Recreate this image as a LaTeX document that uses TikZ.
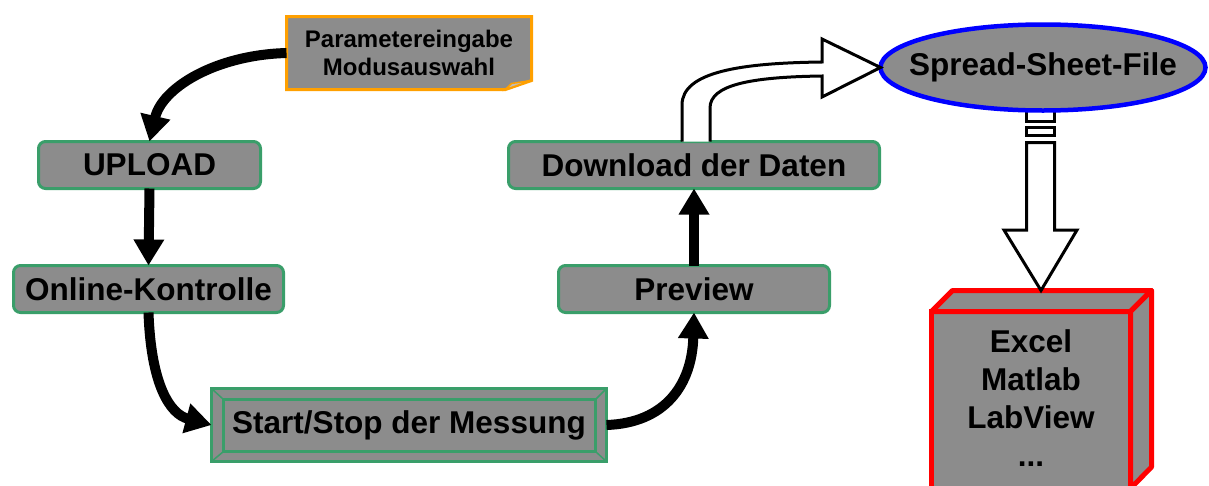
\documentclass[tikz,border=0pt]{standalone}
\usepackage{fontspec}
\setmainfont{Liberation Sans}
\usetikzlibrary{arrows.meta,calc,shapes.geometric,backgrounds}
\definecolor{boxgreen}{RGB}{58,158,106}
\definecolor{noteorange}{RGB}{255,160,0}
\definecolor{dither}{RGB}{140,140,140}
\definecolor{foldgray}{RGB}{190,190,190}
\begin{document}
\begin{tikzpicture}[x=1pt,y=-1pt,
  bigfont/.style={font=\fontsize{31.5}{38}\selectfont\bfseries},
  stepbox/.style={draw=boxgreen, line width=3pt, fill=dither, rounded corners=7pt,
    inner sep=0pt, outer sep=0pt, bigfont, minimum height=47pt},
  flow/.style={line width=10pt, -{Triangle[width=29pt,length=26pt]}},
  hollow/.style={draw=black, fill=white, line width=3pt, line join=miter},
  notebox/.style={draw=noteorange, line width=3pt, fill=dither, line join=miter},
  cube/.style={draw=red, line width=5pt, fill=dither, line join=round}]
\useasboundingbox (0,0) rectangle (1209,485);

% --- process steps ---
\node[font=\fontsize{24}{28}\selectfont\bfseries, align=center, inner sep=0pt, outer sep=0pt,
      minimum width=245pt, minimum height=73pt] (param) at (409,53) {Parametereingabe\\Modusauswahl};
\begin{scope}[on background layer]
  \draw[notebox] (param.north west) -- (param.north east) -- ($(param.south east)+(0,9pt)$)
     -- ($(param.south east)+(-26pt,0)$) -- (param.south west) -- cycle;
  \draw[noteorange, line width=1.5pt, fill=foldgray] ($(param.south east)+(-26pt,0)$)
     -- ($(param.south east)+(-20pt,6pt)$) -- ($(param.south east)+(0,9pt)$) -- cycle;
\end{scope}

\node[stepbox, minimum width=222pt] (upload) at (149.5,165) {UPLOAD};
\node[stepbox, minimum width=270pt] (online) at (148.5,289) {Online-Kontrolle};
\node[stepbox, minimum width=271pt] (preview) at (694,289) {Preview};
\node[stepbox, minimum width=371pt] (download) at (694,165) {Download der Daten};

% measurement box with a bevelled double frame
\node[stepbox, rounded corners=0pt, minimum width=395pt, minimum height=73pt] (meas) at (409,425) {Start/Stop der Messung};
\draw[boxgreen, line width=3pt]
  ($(meas.north west)+(12pt,-11pt)$) rectangle ($(meas.south east)+(-11pt,10pt)$);
\draw[boxgreen, line width=1.5pt]
  (meas.north west) -- ($(meas.north west)+(12pt,-11pt)$)
  (meas.north east) -- ($(meas.north east)+(-11pt,-11pt)$)
  (meas.south west) -- ($(meas.south west)+(12pt,10pt)$)
  (meas.south east) -- ($(meas.south east)+(-11pt,10pt)$);

% --- output side ---
% striped hollow arrow below the file node
\draw[hollow] (1026.5,104) rectangle (1054.5,121.5);
\draw[hollow] (1026.5,127.5) rectangle (1054.5,135.5);

\node[ellipse, draw=blue, line width=4.5pt, fill=dither, inner sep=0pt, outer sep=0pt,
      minimum width=325pt, minimum height=86pt,
      label={[bigfont]center:Spread-Sheet-File}] (spread) at (1043,67.5) {};

\node[cube, line join=miter, inner sep=0pt, outer sep=0pt, minimum width=199pt, minimum height=194pt,
      label={[bigfont, align=center, yshift=10pt]center:Excel\\Matlab\\LabView\\...}]
      (tools) at (1031,408.5) {};
\draw[cube] (tools.north west) -- ++(21pt,21pt) -- ($(tools.north east)+(21pt,21pt)$)
  -- (tools.north east) -- cycle;
\draw[cube] (tools.north east) -- ++(21pt,21pt) -- (1151.5,467)
  -- ($(tools.north east)+(0,-177pt)$) -- cycle;

\draw[hollow] (1026.5,142.5) -- (1026.5,230) -- (1004,230) -- ($(tools.north)+(10pt,21pt)$)
  -- (1077,230) -- (1054.5,230) -- (1054.5,142.5) -- cycle;

% curved hollow arrow from the download step to the file
\draw[hollow] ($(download.north)+(-12pt,0)$) -- (682,105)
  .. controls (682,72) and (740,63) .. (822,62) -- (822,39) -- (spread.west)
  -- (822,97) -- (822,76) .. controls (750,77) and (710,85) .. (710,108)
  -- ($(download.north)+(16pt,0)$);

% --- flow arrows ---
\draw[flow] (param.west) .. controls (215,55) and (162,88) .. (upload.north);
\draw[flow] (upload.south) -- (online.north);
\draw[flow] (online.south) .. controls (151,385) and (170,414) .. (meas.west);
\draw[flow] (meas.east) .. controls (665,423) and (692,385) .. (preview.south);
\draw[flow] (preview.north) -- (download.south);
\end{tikzpicture}
\end{document}
